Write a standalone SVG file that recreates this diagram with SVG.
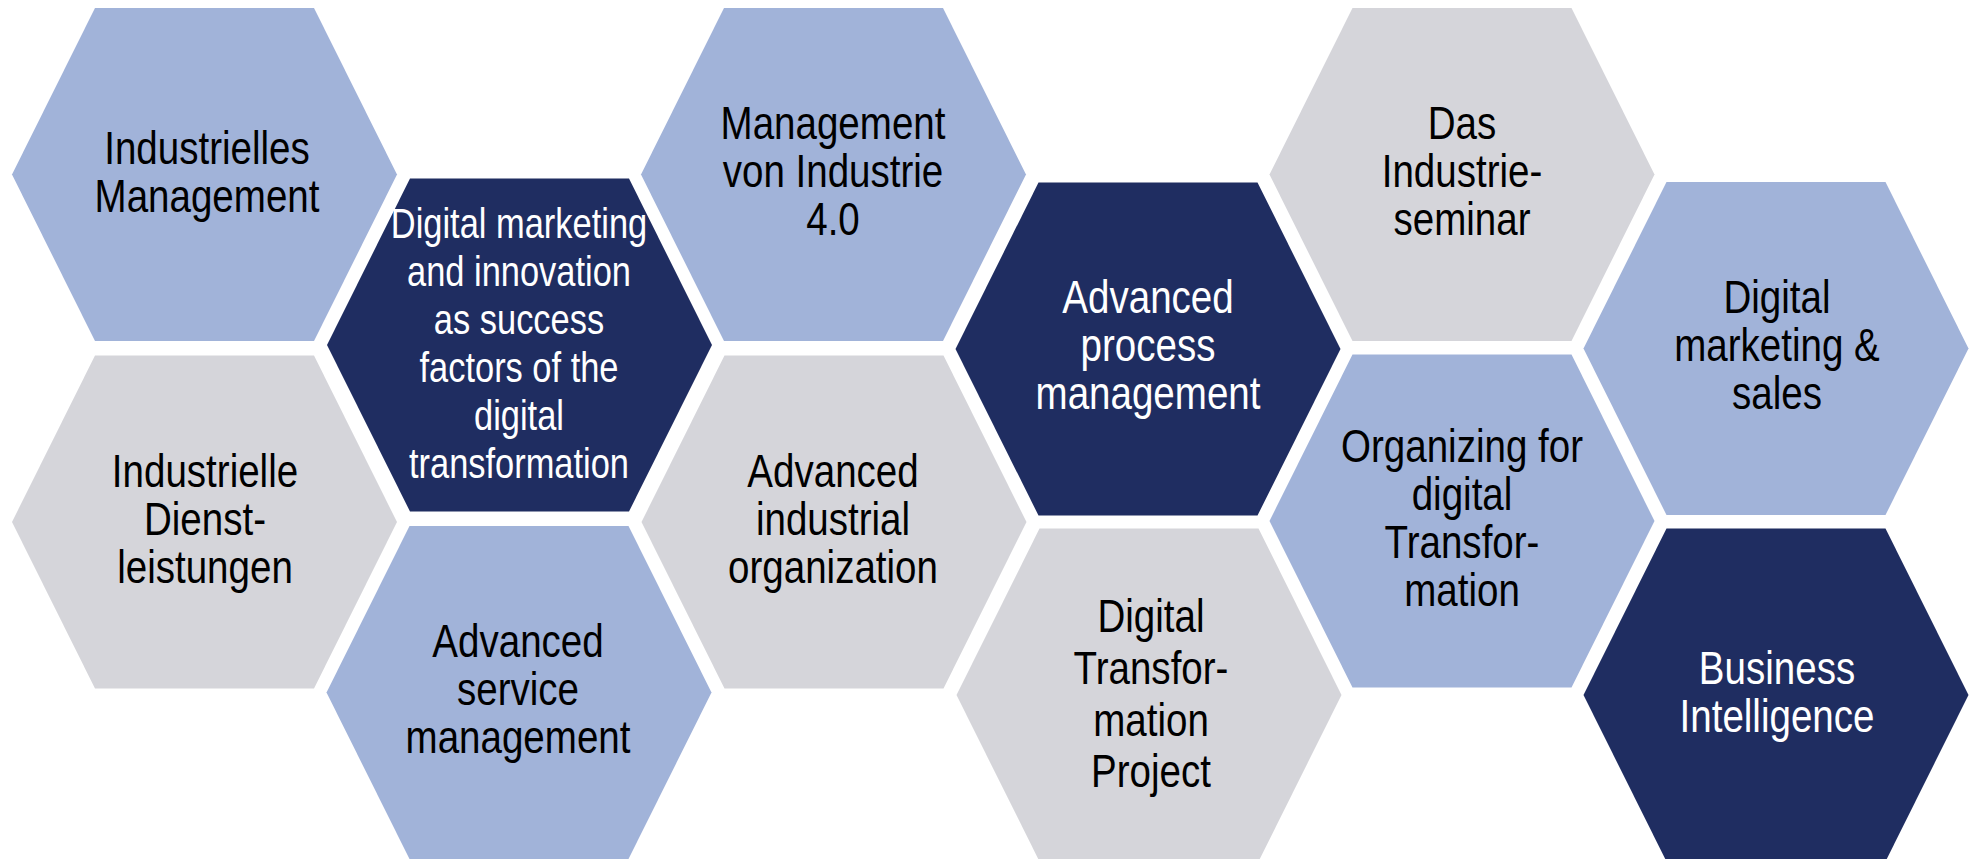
<svg xmlns="http://www.w3.org/2000/svg" xmlns:xlink="http://www.w3.org/1999/xlink" width="1972" height="859" viewBox="0 0 1972 859">
<style>
.hx{stroke:none}
.lb{fill:#A1B3D9}
.gr{fill:#D5D5DA}
.nv{fill:#1F2D61}
text{font-family:"Liberation Sans",Arial,sans-serif;font-size:47px;text-anchor:middle}
.dk{fill:#000000}
.wt{fill:#FFFFFF}
</style>
<defs>
<polygon id="hex" points="-192.5,0 -109.5,-166.5 109.5,-166.5 192.5,0 109.5,166.5 -109.5,166.5"/>
</defs>
<rect width="1972" height="859" fill="#FFFFFF"/>
<g id="connectors"/>
<g id="n1"><use xlink:href="#hex" class="hx lb" x="204.5" y="174.5"/>
<text class="dk" transform="translate(207 0) scale(0.82 1)"><tspan x="0" y="164">Industrielles</tspan><tspan x="0" y="212">Management</tspan></text></g>
<g id="n2"><use xlink:href="#hex" class="hx gr" x="204.5" y="522"/>
<text class="dk" transform="translate(205 0) scale(0.82 1)"><tspan x="0" y="487">Industrielle</tspan><tspan x="0" y="535">Dienst-</tspan><tspan x="0" y="583">leistungen</tspan></text></g>
<g id="n3"><use xlink:href="#hex" class="hx nv" x="519.5" y="345"/>
<text class="wt" style="font-size:42px" transform="translate(519 0) scale(0.82 1)"><tspan x="0" y="238">Digital marketing</tspan><tspan x="0" y="286">and innovation</tspan><tspan x="0" y="334">as success</tspan><tspan x="0" y="382">factors of the</tspan><tspan x="0" y="430">digital</tspan><tspan x="0" y="478">transformation</tspan></text></g>
<g id="n4"><use xlink:href="#hex" class="hx lb" x="519" y="692.5"/>
<text class="dk" transform="translate(518 0) scale(0.82 1)"><tspan x="0" y="657">Advanced</tspan><tspan x="0" y="705">service</tspan><tspan x="0" y="753">management</tspan></text></g>
<g id="n5"><use xlink:href="#hex" class="hx lb" x="833.5" y="174.5"/>
<text class="dk" transform="translate(833 0) scale(0.82 1)"><tspan x="0" y="139">Management</tspan><tspan x="0" y="187">von Industrie</tspan><tspan x="0" y="235">4.0</tspan></text></g>
<g id="n6"><use xlink:href="#hex" class="hx gr" x="834" y="522"/>
<text class="dk" transform="translate(833 0) scale(0.82 1)"><tspan x="0" y="487">Advanced</tspan><tspan x="0" y="535">industrial</tspan><tspan x="0" y="583">organization</tspan></text></g>
<g id="n7"><use xlink:href="#hex" class="hx nv" x="1148" y="349"/>
<text class="wt" transform="translate(1148 0) scale(0.82 1)"><tspan x="0" y="313">Advanced</tspan><tspan x="0" y="361">process</tspan><tspan x="0" y="409">management</tspan></text></g>
<g id="n8"><use xlink:href="#hex" class="hx gr" x="1149" y="695"/>
<text class="dk" transform="translate(1151 0) scale(0.82 1)"><tspan x="0" y="632">Digital</tspan><tspan x="0" y="684">Transfor-</tspan><tspan x="0" y="736">mation</tspan><tspan x="0" y="787">Project</tspan></text></g>
<g id="n9"><use xlink:href="#hex" class="hx gr" x="1462" y="174.5"/>
<text class="dk" transform="translate(1462 0) scale(0.82 1)"><tspan x="0" y="139">Das</tspan><tspan x="0" y="187">Industrie-</tspan><tspan x="0" y="235">seminar</tspan></text></g>
<g id="n10"><use xlink:href="#hex" class="hx lb" x="1462" y="521"/>
<text class="dk" transform="translate(1462 0) scale(0.82 1)"><tspan x="0" y="462">Organizing for</tspan><tspan x="0" y="510">digital</tspan><tspan x="0" y="558">Transfor-</tspan><tspan x="0" y="606">mation</tspan></text></g>
<g id="n11"><use xlink:href="#hex" class="hx lb" x="1776" y="348.5"/>
<text class="dk" transform="translate(1777 0) scale(0.82 1)"><tspan x="0" y="313">Digital</tspan><tspan x="0" y="361">marketing &amp;</tspan><tspan x="0" y="409">sales</tspan></text></g>
<g id="n12"><use xlink:href="#hex" class="hx nv" x="1776" y="695"/>
<text class="wt" transform="translate(1777 0) scale(0.82 1)"><tspan x="0" y="684">Business</tspan><tspan x="0" y="732">Intelligence</tspan></text></g>
</svg>
